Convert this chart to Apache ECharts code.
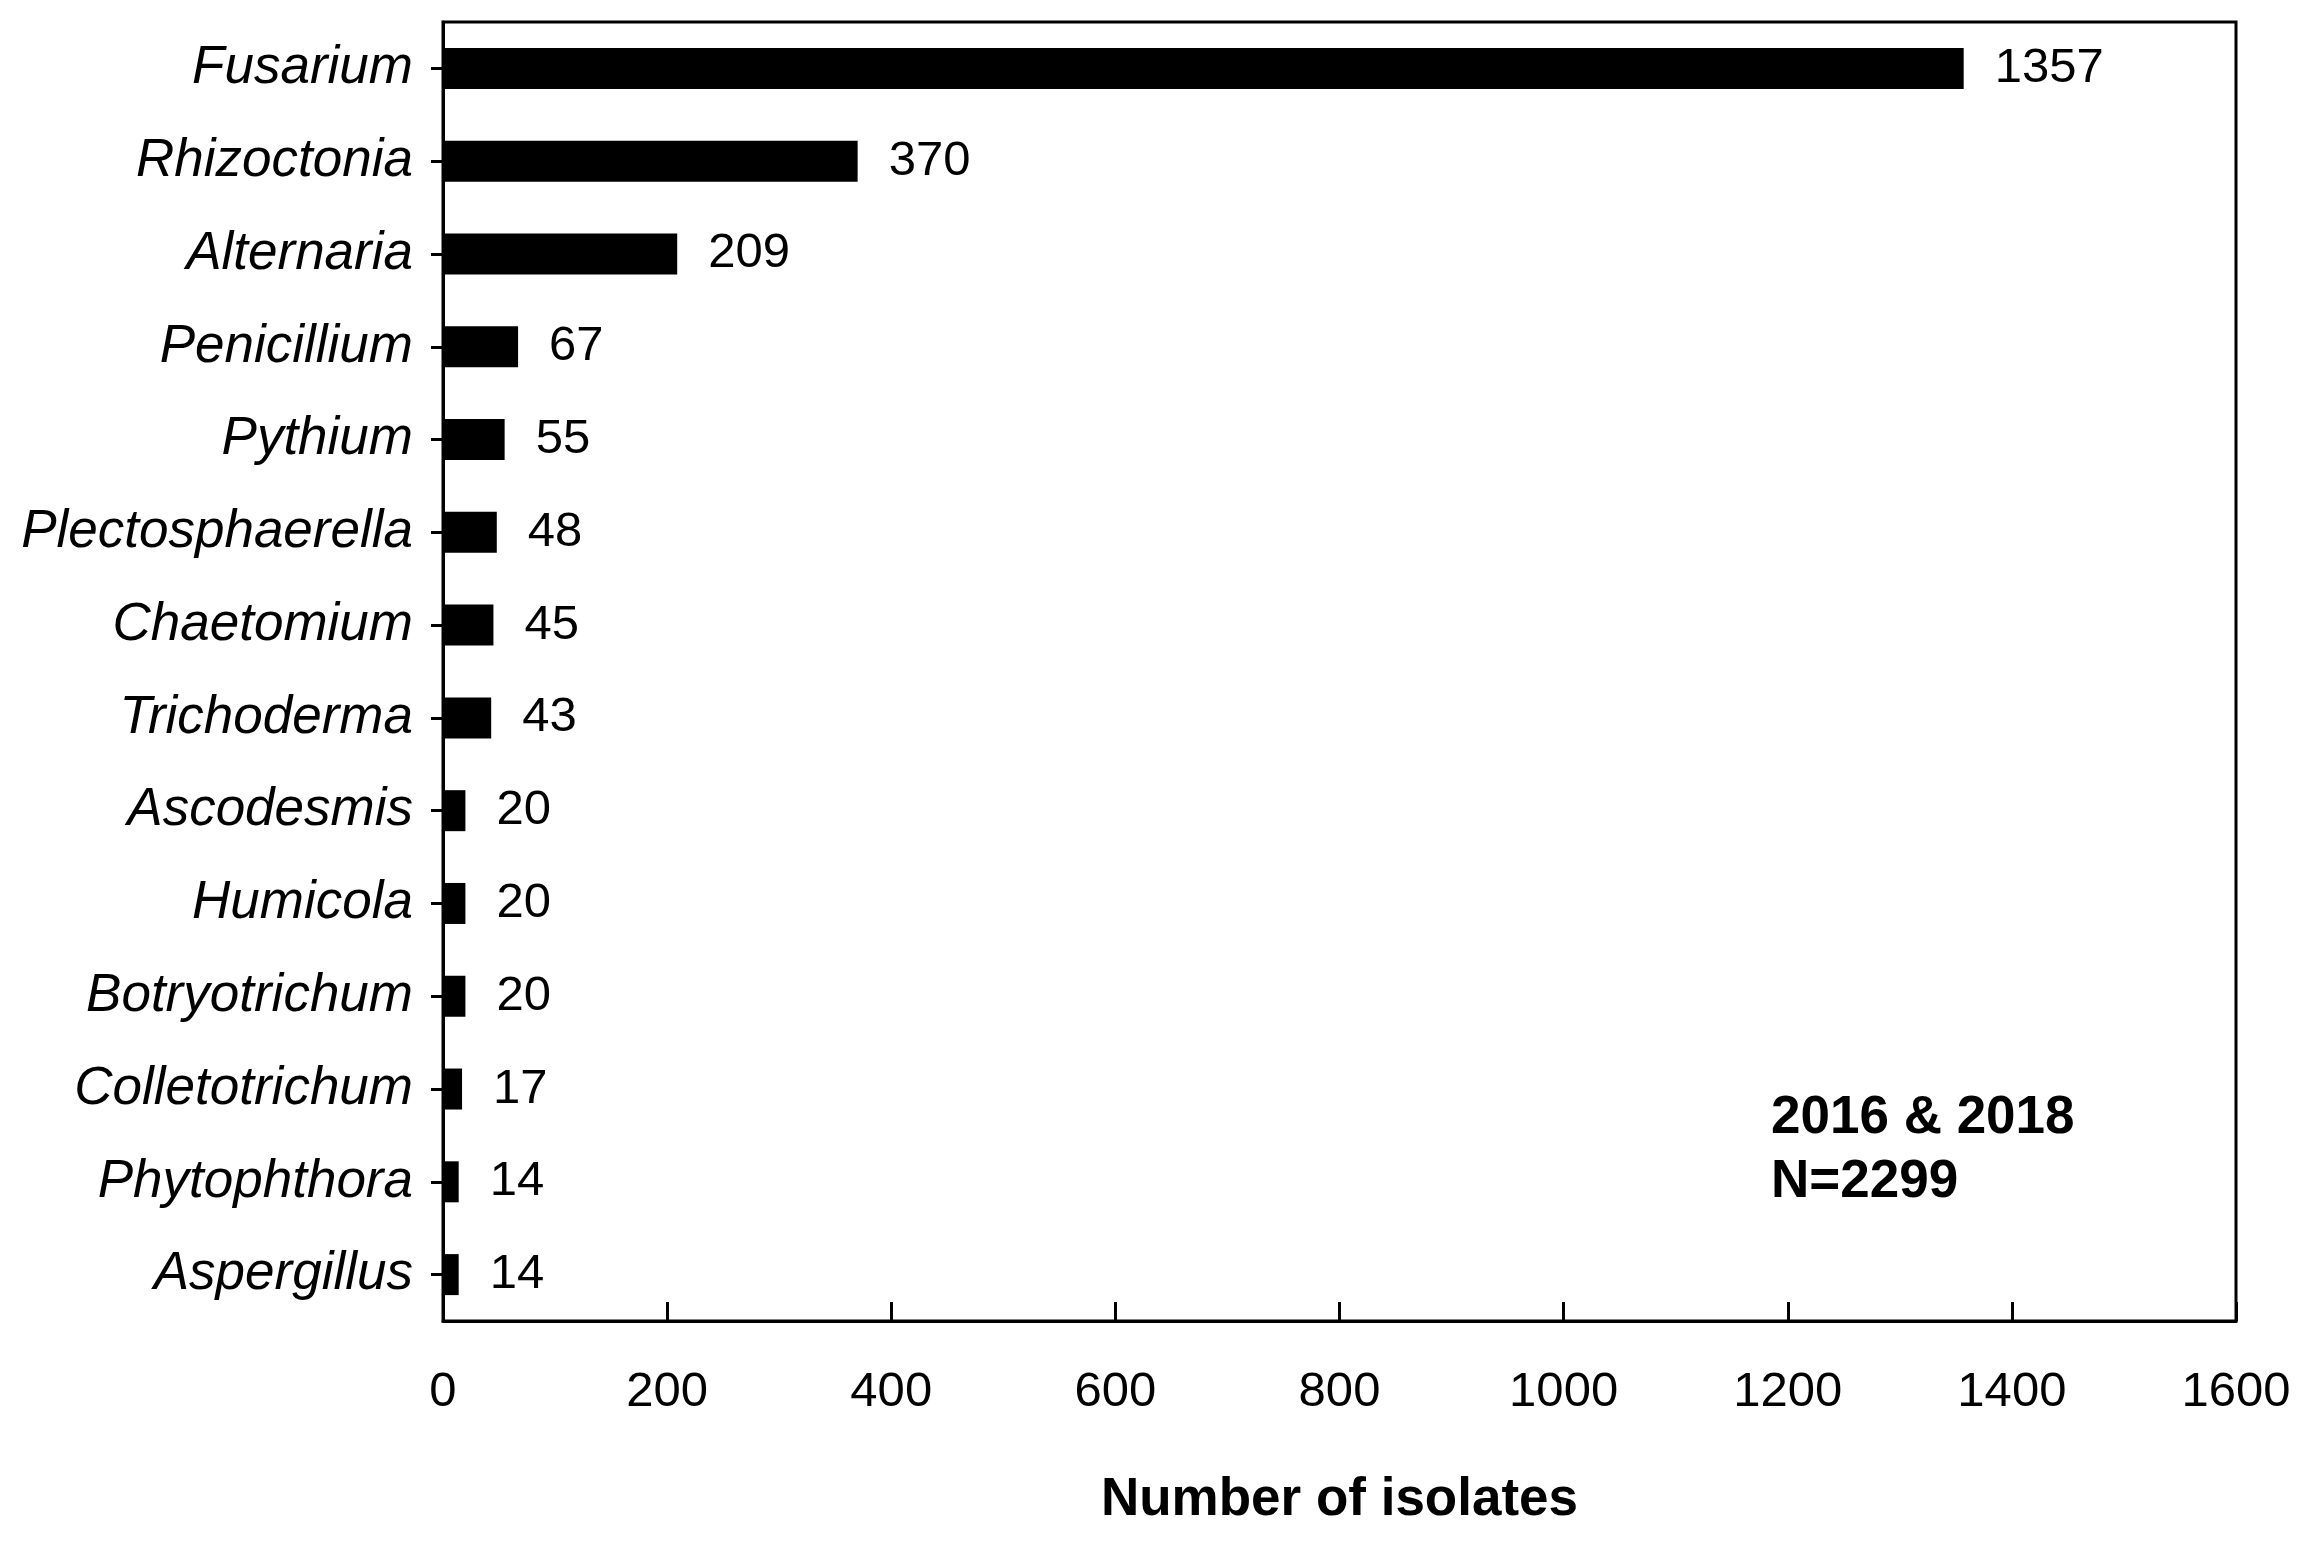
<!DOCTYPE html>
<html style="height: 100%">
   <head>
       <meta charset="utf-8">
   </head>
   <body style="height: 100%; margin: 0; background: #fff">
       <div id="container" style="width: 2307px; height: 1543px"></div>
       <script type="text/javascript" src="https://cdn.jsdelivr.net/npm/echarts@6/dist/echarts.min.js"></script>
       <script type="text/javascript">
// genera, top to bottom
var genera = ['Fusarium', 'Rhizoctonia', 'Alternaria', 'Penicillium', 'Pythium',
    'Plectosphaerella', 'Chaetomium', 'Trichoderma', 'Ascodesmis', 'Humicola',
    'Botryotrichum', 'Colletotrichum', 'Phytophthora', 'Aspergillus'];
var isolates = [1357, 370, 209, 67, 55, 48, 45, 43, 20, 20, 20, 17, 14, 14];
var xTicks = [0, 1600, 200];   // min, max, interval
var note = ['2016 & 2018', 'N=2299'];

var font = '"Liberation Sans", Arial, sans-serif';

var dom = document.getElementById("container");
var myChart = echarts.init(dom);

var option = {
    animation: false,
    backgroundColor: '#fff',
    textStyle: { fontFamily: font, color: '#000' },
    title: {
        text: note.join('\n'),
        left: 1771,
        top: 1086,
        padding: 0,
        textStyle: {
            fontFamily: font,
            fontSize: 53,
            fontWeight: 'bold',
            color: '#000',
            lineHeight: 64
        }
    },
    grid: {
        left: 443,
        right: 71,
        top: 22,
        bottom: 222,
        show: true,
        borderColor: '#000',
        borderWidth: 3,
        backgroundColor: 'transparent'
    },
    xAxis: {
        type: 'value',
        min: xTicks[0],
        max: xTicks[1],
        interval: xTicks[2],
        name: 'Number of isolates',
        nameLocation: 'middle',
        nameGap: 153,
        nameTextStyle: { fontFamily: font, fontSize: 53, fontWeight: 'bold', color: '#000' },
        axisLine: { show: true, lineStyle: { color: '#000', width: 3 } },
        axisTick: { show: true, inside: true, length: 19, lineStyle: { color: '#000', width: 3 } },
        axisLabel: {
            fontFamily: font, fontSize: 49, color: '#000', margin: 47,
            formatter: function (v) { return String(v); }
        },
        splitLine: { show: false }
    },
    yAxis: {
        type: 'category',
        inverse: true,
        data: genera,
        axisLine: { show: true, lineStyle: { color: '#000', width: 3 } },
        axisTick: { show: true, alignWithLabel: true, length: 12, lineStyle: { color: '#000', width: 3 } },
        axisLabel: {
            fontFamily: font, fontSize: 53, fontStyle: 'italic', color: '#000', margin: 30,
            padding: [6, 0, 0, 0]
        }
    },
    series: [{
        type: 'bar',
        data: isolates,
        barWidth: 41,
        itemStyle: { color: '#000' },
        label: {
            show: true,
            position: 'right',
            distance: 31,
            fontFamily: font,
            fontSize: 49,
            color: '#000',
            padding: [6, 0, 0, 0]
        }
    }]
};

if (option && typeof option === "object") {
    myChart.setOption(option, true);
}
       </script>
   </body>
</html>
